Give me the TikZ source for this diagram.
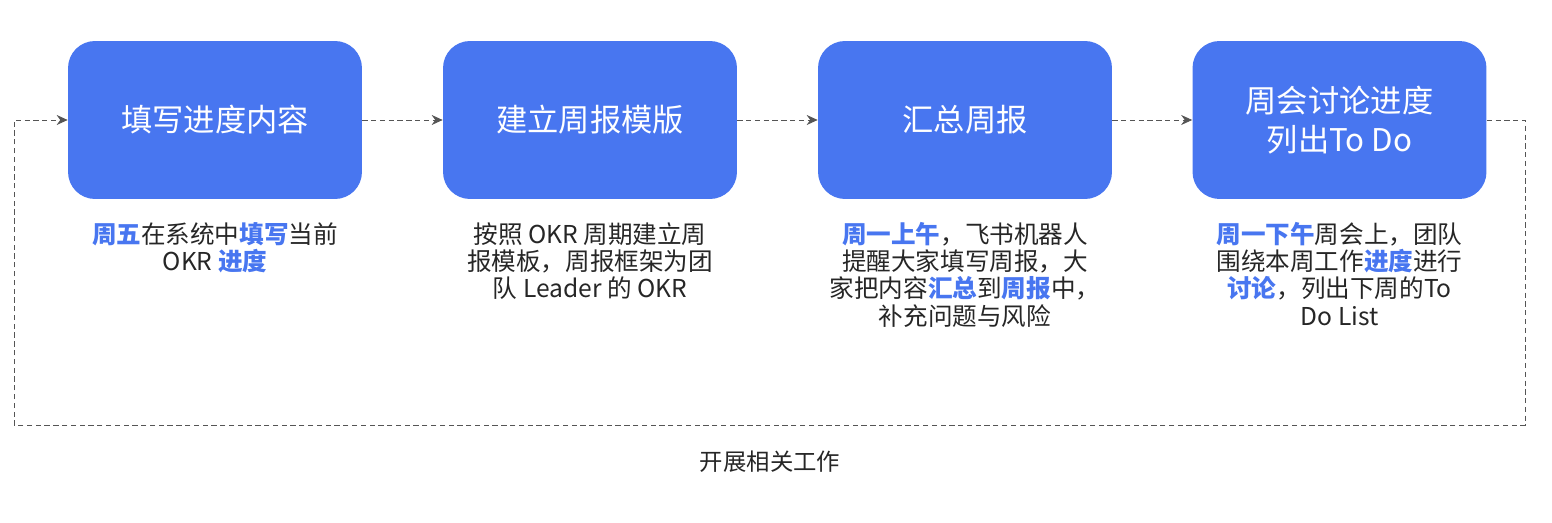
\documentclass[tikz,border=0pt]{standalone}
\usepackage{fontspec}
\setmainfont{Noto Sans CJK SC}
\usepackage{xcolor}
\usetikzlibrary{arrows.meta,positioning}
\definecolor{okrblue}{RGB}{72,118,240}
\definecolor{loopgray}{RGB}{85,85,85}
\newcommand{\hl}[1]{\textcolor{okrblue}{\textbf{#1}}}

\begin{document}
\begin{tikzpicture}[
  x=0.02cm, y=-0.02cm,
  >={Stealth[length=2.2mm, width=2mm]},
  stepbox/.style={fill=okrblue, rounded corners=0.54cm, minimum width=5.88cm,
    minimum height=3.16cm, text=white, align=center,
    font=\fontsize{17.8}{22}\selectfont},
  desc/.style={align=center, text=black!85, inner sep=0pt,
    font=\fontsize{14}{15.4}\selectfont},
  flow/.style={->, densely dashed, loopgray, line width=0.5pt},
]
\useasboundingbox (0,0) rectangle (1552,523);
% boxes
\node[stepbox] (b1) at (215,120) {填写进度内容};
\node[stepbox] (b2) at (590,120) {建立周报模版};
\node[stepbox] (b3) at (965,120) {汇总周报};
\node[stepbox] (b4) at (1339.5,120) {周会讨论进度\\列出To Do};
% what happens in each step
\node[desc, below=0.46cm of b1] (d1)
  {\hl{周五}在系统中\hl{填写}当前\\OKR \hl{进度}};
\node[desc, below=0.46cm of b2] (d2)
  {按照 OKR 周期建立周\\报模板，周报框架为团\\队 Leader 的 OKR};
\node[desc, below=0.46cm of b3] (d3)
  {\hl{周一上午}，飞书机器人\\提醒大家填写周报，大\\家把内容\hl{汇总}到\hl{周报}中，\\补充问题与风险};
\node[desc, below=0.46cm of b4] (d4)
  {\hl{周一下午}周会上，团队\\围绕本周工作\hl{进度}进行\\\hl{讨论}，列出下周的To\\Do List};
% flow between the steps
\draw[flow] (b1) -- (b2);
\draw[flow] (b2) -- (b3);
\draw[flow] (b3) -- (b4);
% the loop back to the start
\coordinate (lr) at (1525,425);
\coordinate (ll) at (14,425);
\draw[flow] (b4.east) -| (lr) -- (ll) |- (b1.west);
\node[font=\fontsize{13.3}{15}\selectfont, text=black!85] (work) at (770,462) {开展相关工作};
\end{tikzpicture}
\end{document}
